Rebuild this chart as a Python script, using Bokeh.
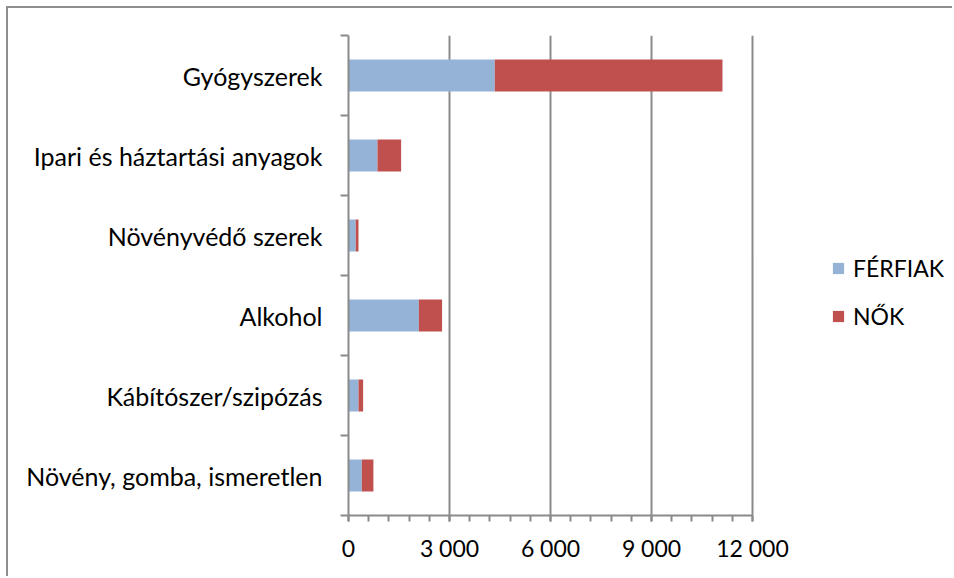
from bokeh.plotting import figure
from bokeh.models import Range1d, FixedTicker, Legend, LegendItem
from bokeh.embed import file_html
from bokeh.resources import INLINE

categories = ["Növény, gomba, ismeretlen", "Kábítószer/szipózás", "Alkohol",
              "Növényvédő szerek", "Ipari és háztartási anyagok", "Gyógyszerek"]
ferfiak = [395, 297, 2090, 215, 860, 4345]
nok = [345, 137, 690, 82, 703, 6763]
series_names = ["FÉRFIAK", "NŐK"]
x_ticks = [0, 3000, 6000, 9000, 12000]
x_tick_labels = ["0", "3 000", "6 000", "9 000", "12 000"]

FONT = "Lato"
GRAY = "#8a8a8a"

ypos = [i + 0.5 for i in range(len(categories))]
totals = [a + b for a, b in zip(ferfiak, nok)]

p = figure(width=946, height=570, output_backend="svg", toolbar_location=None,
           x_range=Range1d(0, 18000), y_range=Range1d(0, len(categories)),
           min_border_left=340, min_border_right=0, min_border_top=27, min_border_bottom=63,
           stylesheets=[":host { margin-left: 6px; margin-top: 6px; "
                        "border-top: 2px solid #8e8e8e; border-left: 2px solid #8e8e8e; }"])
p.outline_line_color = None
p.background_fill_color = "white"

r1 = p.hbar(y=ypos, left=0, right=ferfiak, height=0.4, fill_color="#95B3D7", line_color=None)
r2 = p.hbar(y=ypos, left=ferfiak, right=totals, height=0.4, fill_color="#C0504D", line_color=None)

# x axis
xa = p.xaxis[0]
xa.bounds = (0, 12000)
xa.ticker = FixedTicker(ticks=x_ticks, minor_ticks=list(range(0, 12001, 600)))
xa.major_label_overrides = {t: l for t, l in zip(x_ticks, x_tick_labels)}
xa.axis_line_color = GRAY
xa.axis_line_width = 2
xa.major_tick_line_color = GRAY
xa.major_tick_line_width = 2
xa.minor_tick_line_color = GRAY
xa.minor_tick_line_width = 2
xa.major_tick_in = 0
xa.major_tick_out = 6
xa.minor_tick_in = 0
xa.minor_tick_out = 6
xa.major_label_text_font = FONT
xa.major_label_text_font_size = "23px"
xa.major_label_text_color = "black"
xa.major_label_standoff = 12

# y axis
ya = p.yaxis[0]
ya.ticker = FixedTicker(ticks=ypos, minor_ticks=list(range(0, len(categories) + 1)))
ya.major_label_overrides = {y: c for y, c in zip(ypos, categories)}
ya.axis_line_color = GRAY
ya.axis_line_width = 2
ya.major_tick_line_color = None
ya.major_tick_in = 0
ya.major_tick_out = 0
ya.minor_tick_line_color = GRAY
ya.minor_tick_line_width = 2
ya.minor_tick_in = 0
ya.minor_tick_out = 8
ya.major_label_text_font = FONT
ya.major_label_text_font_size = "25px"
ya.major_label_text_color = "black"
ya.major_label_standoff = 18

p.ygrid.grid_line_color = None
p.xgrid.ticker = FixedTicker(ticks=x_ticks[1:])
p.xgrid.grid_line_color = GRAY
p.xgrid.grid_line_width = 2

legend = Legend(items=[LegendItem(label=series_names[0], renderers=[r1]),
                       LegendItem(label=series_names[1], renderers=[r2])],
                location=(483, 185))
legend.border_line_color = None
legend.background_fill_alpha = 0
legend.padding = 0
legend.margin = 0
legend.glyph_width = 14
legend.glyph_height = 14
legend.label_standoff = 8
legend.spacing = 20
legend.label_text_font = FONT
legend.label_text_font_size = "23px"
legend.label_text_color = "black"
p.add_layout(legend, "center")

open("out.html", "w").write(file_html(p, INLINE))
